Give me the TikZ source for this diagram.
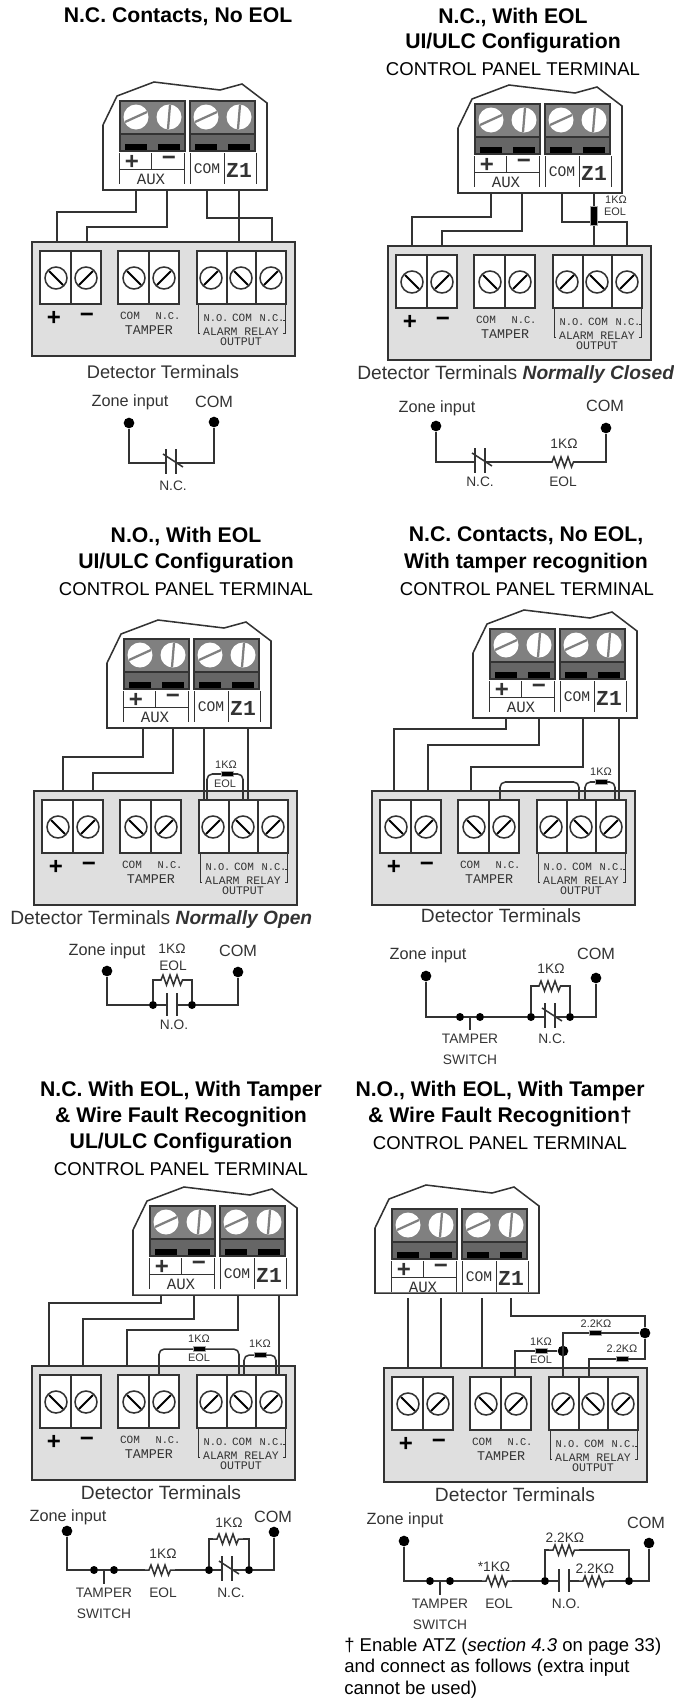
\documentclass[tikz,border=0pt]{standalone}
\usepackage{fontspec}
\setmainfont{Liberation Sans}
\setmonofont{Liberation Mono}
\usetikzlibrary{calc}

\definecolor{inkline}{HTML}{333333}
\definecolor{boxgrey}{HTML}{DFDFDF}
\definecolor{blockgrey}{HTML}{808080}
\definecolor{blockdark}{HTML}{666666}

\tikzset{
	wire/.style={draw=inkline,line width=1.15pt},
	headline/.style={inner sep=0,font=\fontsize{15.9}{19}\selectfont\bfseries,text=black},
	subhead/.style={inner sep=0,font=\fontsize{13.9}{17}\selectfont,text=black},
	termlabel/.style={inner sep=0,font=\fontsize{14.4}{17}\selectfont,text=inkline},
	zonelabel/.style={inner sep=0,font=\fontsize{12.2}{15}\selectfont,text=inkline},
	partlabel/.style={inner sep=0,font=\fontsize{10.3}{13}\selectfont,text=inkline},
	tinylabel/.style={inner sep=0,font=\fontsize{8.2}{10}\selectfont,text=inkline},
	stencil/.style={inner sep=0,font=\fontsize{#1}{#1}\selectfont\ttfamily,text=inkline},
	signmark/.style={inner sep=0,font=\fontsize{18}{18}\selectfont\bfseries,text=inkline},
	bigdot/.style={circle,fill=black,inner sep=0,minimum size=8pt},
	joindot/.style={circle,fill=black,inner sep=0,minimum size=6pt},
	smallres/.style={rectangle,fill=black,draw=black!35,line width=.3pt,inner sep=0,minimum width=9pt,minimum height=3.8pt},
	pics/termpanel/.default=0,
	pics/termpanel/.style={code={
		\draw[wire,fill=white] (0,-65) -- (14,-94) -- (51,-108) -- (117,-100) -- (139,-106) -- (164,-87) -- (164,0) -- (0,0) -- cycle;
		\begin{scope}[shift={(0,#1)}]
		\foreach \x in {17,87} {
			\draw[wire,fill=blockgrey] (\x,-89) rectangle ++(65,50);
			\draw[wire,fill=blockdark] (\x,-56) rectangle ++(65,17);
			\fill[black] (\x+5,-46) rectangle ++(22,6);
			\fill[black] (\x+38,-46) rectangle ++(22,6);
		}
		\foreach \x in {33,103} {
			\fill[white] (\x,-73) circle (12.5*.75pt);
			\draw[blockgrey,line width=1.7pt] (\x-11,-68) -- (\x+11,-78);
			\fill[white] (\x+33,-73) circle (12.5*.75pt);
			\draw[blockgrey,line width=1.7pt] (\x+32,-61) -- (\x+34,-85);
		}
		\foreach \x/\t in {16.5/-6,48/-21,81/-6,87/-6,121/-6,153/-6}
			\draw[inkline,line width=.7pt] (\x,-37) -- (\x,\t);
		\draw[inkline,line width=.7pt] (16.5,-21) -- (81,-21);
		\node[signmark] (-plus) at (29,-28) {+};
		\node[signmark] (-minus) at (66,-29) {−};
		\node[stencil=11.8] (-aux) at (48,-11) {AUX};
		\node[stencil=11] (-com) at (104,-21) {COM};
		\node[stencil=16,font=\fontsize{16}{16}\selectfont\ttfamily\bfseries] (-zone) at (136,-20) {Z1};
		\end{scope}
	}},
	pics/detbox/.style={code={
		\draw[wire,fill=boxgrey] (0,0) rectangle (263,114);
		\foreach \x/\w in {8/61,86/61,165/89}
			\draw[wire,fill=white] (\x,9) rectangle ++(\w,53);
		\foreach \x in {39,117,195,224}
			\draw[wire] (\x,9) -- (\x,62);
		\foreach \x/\s in {24/1,54/-1,102/1,132/-1,179/-1,209/1,239/-1} {
			\draw[wire,fill=white] (\x,36) circle (11*.75pt);
			\draw[black,line width=1.5pt] ({\x-7*\s},29) -- ({\x+7*\s},43);
		}
		\draw[inkline,line width=.5pt] (166,62) -- (166,91) -- (168,91);
		\draw[inkline,line width=.5pt] (253,62) -- (253,91) -- (251,91);
		\draw[inkline,line width=.5pt] (253,78) -- (251,78);
		\node[signmark,text=black] (-plus) at (22,76) {+};
		\node[signmark,text=black] (-minus) at (55,76) {−};
		\node[stencil=8.3] (-tcom) at (98,74) {COM};
		\node[stencil=7.8] (-tnc) at (136,74) {N.C.};
		\node[stencil=10] (-tamper) at (117,88) {TAMPER};
		\node[stencil=7.8] (-no) at (184,76) {N.O.};
		\node[stencil=8.3] (-rcom) at (210,76) {COM};
		\node[stencil=7.8] (-nc) at (240,76) {N.C.};
		\node[stencil=8.6] (-alarm) at (209,90) {ALARM RELAY};
		\node[stencil=8.7] (-output) at (209,100) {OUTPUT};
	}},
	pics/nccontact/.style={code={
		\coordinate (-w) at (-5,0);
		\coordinate (-e) at (5,0);
		\draw[wire] (-5,-14) -- (-5,11);
		\draw[wire] (5,-14) -- (5,11);
		\draw[wire] (-8,-9) -- (12,4);
	}},
	pics/nocontact/.style={code={
		\coordinate (-w) at (-5,0);
		\coordinate (-e) at (5,0);
		\draw[wire] (-5,-12) -- (-5,11);
		\draw[wire] (5,-12) -- (5,11);
	}},
	pics/zigres/.style={code={
		\coordinate (-w) at (-15,0);
		\coordinate (-e) at (15,0);
		\draw[wire] (-w) -- (-11,0) -- (-9,-5) -- (-5.5,5) -- (-2,-5) -- (1.5,5) -- (5,-5) -- (8.5,5) -- (10.5,0) -- (-e);
	}},
}

\begin{document}
\begin{tikzpicture}[x=.75pt,y=-.75pt]
	\useasboundingbox (0,0) rectangle (674,1699);

	% headings
	\node[headline] (headA) at (178,17) {N.C. Contacts, No EOL};
	\node[headline] (headB) at (513,17) {N.C., With EOL};
	\node[headline] (headBb) at (513,43) {UI/ULC Configuration};
	\node[subhead] (subB) at (513,69) {CONTROL PANEL TERMINAL};
	\node[headline] (headC) at (186,536) {N.O., With EOL};
	\node[headline] (headCb) at (186,563) {UI/ULC Configuration};
	\node[subhead] (subC) at (186,589) {CONTROL PANEL TERMINAL};
	\node[headline] (headD) at (526,536) {N.C. Contacts, No EOL,};
	\node[headline] (headDb) at (526,563) {With tamper recognition};
	\node[subhead] (subD) at (527,589) {CONTROL PANEL TERMINAL};
	\node[headline] (headE) at (181,1091) {N.C. With EOL, With Tamper};
	\node[headline] (headEb) at (181,1117) {\& Wire Fault Recognition};
	\node[headline] (headEc) at (181,1143) {UL/ULC Configuration};
	\node[subhead] (subE) at (181,1169) {CONTROL PANEL TERMINAL};
	\node[headline] (headF) at (500,1091) {N.O., With EOL, With Tamper};
	\node[headline] (headFb) at (500,1117) {\& Wire Fault Recognition†};
	\node[subhead] (subF) at (500,1143) {CONTROL PANEL TERMINAL};

	% panels and detector boxes
	\pic (boxA) at (32,242) {detbox};
	\pic (boxB) at (388,246) {detbox};
	\pic (boxC) at (34,791) {detbox};
	\pic (boxD) at (372,791) {detbox};
	\pic (boxE) at (32,1366) {detbox};
	\pic (boxF) at (384,1368) {detbox};
	\pic (panA) at (103,190) {termpanel};
	\pic (panB) at (458,193) {termpanel};
	\pic (panC) at (107,728) {termpanel};
	\pic (panD) at (473,718) {termpanel};
	\pic (panE) at (133,1295) {termpanel};
	\pic (panF) at (375,1293) {termpanel=5};

	\node[termlabel,font=\fontsize{13.7}{17}\selectfont] (detA) at (163,372) {Detector Terminals};
	\node[termlabel,anchor=west] (detB) at (357,375) {Detector Terminals \textbf{\textit{Normally Closed}}};
	\node[termlabel,anchor=west] (detC) at (10,920) {Detector Terminals \textbf{\textit{Normally Open}}};
	\node[termlabel] (detD) at (501,916) {Detector Terminals};
	\node[termlabel] (detE) at (161,1493) {Detector Terminals};
	\node[termlabel] (detF) at (515,1495) {Detector Terminals};

	% wire ends
	\foreach \n/\x/\y in {tapA1/136/190,tapA2/167/190,tapA3/207/190,tapA4/239/190,
		dropA1/57/242,dropA2/87/242,dropA3/272/242,dropA4/239/242,
		tapB1/491/193,tapB2/522/193,tapB3/562/193,tapB4/594/193,
		dropB1/412/246,dropB2/442/246,dropB3/627/246,dropB4/594/246,
		tapC1/143/728,tapC2/173/728,tapC3/204/728,tapC4/248/728,
		dropC1/63/791,dropC2/93/791,dropC3/204/800,dropC4/248/800,
		loopC1/207/800,loopC2/243/800,
		tapD1/506/718,tapD2/539/718,tapD3/583/718,tapD4/619/718,
		dropD1/394/791,dropD2/428/791,dropD3/471/791,dropD4/619/799,
		loopD1/500/799,loopD2/579/799,loopD3/585/799,loopD4/615/799,
		tapE1/161/1295,tapE2/194/1295,tapE3/238/1295,tapE4/279/1295,
		dropE1/49/1366,dropE2/83/1366,dropE3/127/1366,dropE4/279/1375,
		loopE1/159/1375,loopE2/239/1375,loopE3/244/1375,loopE4/276/1375,
		tapF1/408/1298,tapF2/441/1298,tapF3/482/1298,tapF4/511/1298,
		dropF1/408/1368,dropF2/441/1368,dropF3/482/1368,dropF4/589/1377,
		dropF5/563/1377,dropF6/515/1377}
		\coordinate (\n) at (\x,\y);

	% first row wiring
	\draw[wire] (tapA1) -- ++(0,22) -| (dropA1);
	\draw[wire] (tapA2) -- ++(0,37) -| (dropA2);
	\draw[wire] (tapA3) -- ++(0,28) -| (dropA3);
	\draw[wire] (tapA4) -- (dropA4);
	\draw[wire] (tapB1) -- ++(0,24) -| (dropB1);
	\draw[wire] (tapB2) -- ++(0,38) -| (dropB2);
	\draw[wire] (tapB3) -- ++(0,29) -| (dropB3);
	\draw[wire] (tapB4) -- (dropB4);
	\node[smallres,minimum width=14pt,minimum height=5pt,rotate=90] (resB) at (594,216) {};
	\node[tinylabel] (ohmB) at (616,200) {1KΩ};
	\node[tinylabel] (eolB) at (615,212) {EOL};

	% second row wiring
	\draw[wire] (tapC1) -- ++(0,29) -| (dropC1);
	\draw[wire] (tapC2) -- ++(0,45) -| (dropC2);
	\draw[wire] (tapC3) -- (dropC3);
	\draw[wire] (tapC4) -- (dropC4);
	\node[smallres] (resC) at (227,774) {};
	\draw[wire,rounded corners=4pt] (loopC1) |- (resC.west);
	\draw[wire,rounded corners=4pt] (resC.east) -| (loopC2);
	\node[tinylabel] (ohmC) at (226,765) {1KΩ};
	\node[tinylabel] (eolC) at (225,784) {EOL};

	\draw[wire] (tapD1) -- ++(0,11) -| (dropD1);
	\draw[wire] (tapD2) -- ++(0,27) -| (dropD2);
	\draw[wire] (tapD3) -- ++(0,49) -| (dropD3);
	\draw[wire] (tapD4) -- (dropD4);
	\draw[wire,rounded corners=4pt] (loopD1) -- ++(0,-17) -| (loopD2);
	\node[smallres] (resD) at (601,782) {};
	\draw[wire,rounded corners=4pt] (loopD3) |- (resD.west);
	\draw[wire,rounded corners=4pt] (resD.east) -| (loopD4);
	\node[tinylabel] (ohmD) at (601,772) {1KΩ};

	% third row wiring
	\draw[wire] (tapE1) -- ++(0,8) -| (dropE1);
	\draw[wire] (tapE2) -- ++(0,24) -| (dropE2);
	\draw[wire] (tapE3) -- ++(0,35) -| (dropE3);
	\draw[wire] (tapE4) -- (dropE4);
	\node[smallres] (resE) at (199,1349) {};
	\draw[wire,rounded corners=4pt] (loopE1) |- (resE.west);
	\draw[wire,rounded corners=4pt] (resE.east) -| (loopE2);
	\node[tinylabel] (ohmE) at (199,1339) {1KΩ};
	\node[tinylabel] (eolE) at (199,1358) {EOL};
	\node[smallres] (resEb) at (260,1355) {};
	\draw[wire,rounded corners=4pt] (loopE3) |- (resEb.west);
	\draw[wire,rounded corners=4pt] (resEb.east) -| (loopE4);
	\node[tinylabel] (ohmEb) at (260,1344) {1KΩ};

	\draw[wire] (tapF1) -- (dropF1);
	\draw[wire] (tapF2) -- (dropF2);
	\draw[wire] (tapF3) -- (dropF3);
	\node[bigdot] (wireFa) at (645,1333) {};
	\node[bigdot] (wireFb) at (563,1351) {};
	\node[smallres] (resFa) at (595,1333) {};
	\node[smallres] (resFb) at (622,1359) {};
	\node[smallres] (resFc) at (541,1351) {};
	\draw[wire] (tapF4) |- (645,1316) -- (wireFa);
	\draw[wire] (wireFa) |- (resFb.east);
	\draw[wire] (resFb.west) -| (dropF4);
	\draw[wire] (wireFa) -- (resFa.east);
	\draw[wire] (resFa.west) -| (dropF5);
	\draw[wire] (wireFb) -- (resFc.east);
	\draw[wire] (resFc.west) -| (dropF6);
	\node[tinylabel] (ohmFa) at (596,1324) {2.2KΩ};
	\node[tinylabel] (ohmFb) at (622,1349) {2.2KΩ};
	\node[tinylabel] (ohmFc) at (541,1342) {1KΩ};
	\node[tinylabel] (eolF) at (541,1360) {EOL};

	% schematic A
	\node[bigdot] (zoneA) at (129,423) {};
	\node[bigdot] (comA) at (214,422) {};
	\pic (contA) at (171,463) {nccontact};
	\draw[wire] (zoneA) |- (contA-w);
	\draw[wire] (contA-e) -| (comA);
	\node[zonelabel] (zoneAt) at (130,402) {Zone input};
	\node[zonelabel] (comAt) at (214,402) {COM};
	\node[partlabel] (contAt) at (173,486) {N.C.};

	% schematic B
	\node[bigdot] (zoneB) at (436,426) {};
	\node[bigdot] (comB) at (606,428) {};
	\pic (contB) at (480,462) {nccontact};
	\pic (rB) at (563,462) {zigres};
	\draw[wire] (zoneB) |- (contB-w);
	\draw[wire] (contB-e) -- (rB-w);
	\draw[wire] (rB-e) -| (comB);
	\node[zonelabel] (zoneBt) at (437,408) {Zone input};
	\node[zonelabel] (comBt) at (605,406) {COM};
	\node[partlabel] (contBt) at (480,482) {N.C.};
	\node[partlabel] (rBt) at (564,444) {1KΩ};
	\node[partlabel] (eolBt) at (563,482) {EOL};

	% schematic C
	\node[bigdot] (zoneC) at (107,971) {};
	\node[bigdot] (comC) at (238,972) {};
	\node[joindot] (joinC) at (153,1005) {};
	\node[joindot] (joinCb) at (192,1005) {};
	\pic (contC) at (172,1005) {nocontact};
	\pic (rC) at (172,980) {zigres};
	\draw[wire] (zoneC) |- (joinC);
	\draw[wire] (joinC) -- (contC-w);
	\draw[wire] (contC-e) -- (joinCb);
	\draw[wire] (joinCb) -| (comC);
	\draw[wire] (joinC) |- (rC-w);
	\draw[wire] (rC-e) -| (joinCb);
	\node[zonelabel] (zoneCt) at (107,951) {Zone input};
	\node[zonelabel] (comCt) at (238,951) {COM};
	\node[partlabel] (rCt) at (172,949) {1KΩ};
	\node[partlabel] (eolCt) at (173,966) {EOL};
	\node[partlabel] (contCt) at (174,1025) {N.O.};

	% schematic D
	\node[bigdot] (zoneD) at (426,976) {};
	\node[bigdot] (comD) at (596,978) {};
	\node[joindot] (tamD) at (460,1017) {};
	\node[joindot] (tamDb) at (480,1017) {};
	\node[joindot] (joinD) at (531,1017) {};
	\node[joindot] (joinDb) at (570,1017) {};
	\pic (contD) at (550,1017) {nccontact};
	\pic (rD) at (550,986) {zigres};
	\coordinate (pushD) at (470,1017);
	\draw[wire] (zoneD) |- (tamD);
	\draw[wire] (tamD) -- (tamDb);
	\draw[wire] (tamDb) -- (joinD);
	\draw[wire] (joinD) -- (contD-w);
	\draw[wire] (contD-e) -- (joinDb);
	\draw[wire] (joinDb) -| (comD);
	\draw[wire] (joinD) |- (rD-w);
	\draw[wire] (rD-e) -| (joinDb);
	\draw[wire] (pushD) -- ++(0,13);
	\node[zonelabel] (zoneDt) at (428,955) {Zone input};
	\node[zonelabel] (comDt) at (596,954) {COM};
	\node[partlabel] (rDt) at (551,969) {1KΩ};
	\node[partlabel] (tamDt) at (470,1039) {TAMPER};
	\node[partlabel] (swiDt) at (470,1060) {SWITCH};
	\node[partlabel] (contDt) at (552,1039) {N.C.};

	% schematic E
	\node[bigdot] (zoneE) at (67,1531) {};
	\node[bigdot] (comE) at (274,1532) {};
	\node[joindot] (tamE) at (94,1570) {};
	\node[joindot] (tamEb) at (114,1570) {};
	\node[joindot] (joinE) at (209,1570) {};
	\node[joindot] (joinEb) at (249,1570) {};
	\pic (contE) at (227,1570) {nccontact};
	\pic (rE) at (160,1570) {zigres};
	\pic (rEb) at (228,1539) {zigres};
	\coordinate (pushE) at (104,1570);
	\draw[wire] (zoneE) |- (tamE);
	\draw[wire] (tamE) -- (tamEb);
	\draw[wire] (tamEb) -- (rE-w);
	\draw[wire] (rE-e) -- (joinE);
	\draw[wire] (joinE) -- (contE-w);
	\draw[wire] (contE-e) -- (joinEb);
	\draw[wire] (joinEb) -| (comE);
	\draw[wire] (joinE) |- (rEb-w);
	\draw[wire] (rEb-e) -| (joinEb);
	\draw[wire] (pushE) -- ++(0,14);
	\node[zonelabel] (zoneEt) at (68,1517) {Zone input};
	\node[zonelabel] (comEt) at (273,1517) {COM};
	\node[partlabel] (rEt) at (163,1554) {1KΩ};
	\node[partlabel] (rEbt) at (229,1523) {1KΩ};
	\node[partlabel] (eolEt) at (163,1593) {EOL};
	\node[partlabel] (tamEt) at (104,1593) {TAMPER};
	\node[partlabel] (swiEt) at (104,1614) {SWITCH};
	\node[partlabel] (contEt) at (231,1593) {N.C.};

	% schematic F
	\node[bigdot] (zoneF) at (404,1541) {};
	\node[bigdot] (comF) at (649,1543) {};
	\node[joindot] (tamF) at (430,1581) {};
	\node[joindot] (tamFb) at (450,1581) {};
	\node[joindot] (joinF) at (545,1581) {};
	\node[joindot] (joinFb) at (629,1581) {};
	\pic (contF) at (564,1581) {nocontact};
	\pic (rF) at (497,1581) {zigres};
	\pic (rFb) at (594,1581) {zigres};
	\pic (rFc) at (564,1550) {zigres};
	\coordinate (pushF) at (440,1581);
	\draw[wire] (zoneF) |- (tamF);
	\draw[wire] (tamF) -- (tamFb);
	\draw[wire] (tamFb) -- (rF-w);
	\draw[wire] (rF-e) -- (joinF);
	\draw[wire] (joinF) -- (contF-w);
	\draw[wire] (contF-e) -- (rFb-w);
	\draw[wire] (rFb-e) -- (joinFb);
	\draw[wire] (joinFb) -| (comF);
	\draw[wire] (joinF) |- (rFc-w);
	\draw[wire] (rFc-e) -| (joinFb);
	\draw[wire] (pushF) -- ++(0,14);
	\node[zonelabel] (zoneFt) at (405,1520) {Zone input};
	\node[zonelabel] (comFt) at (646,1523) {COM};
	\node[partlabel] (rFct) at (565,1538) {2.2KΩ};
	\node[partlabel] (rFt) at (494,1567) {*1KΩ};
	\node[partlabel] (rFbt) at (595,1569) {2.2KΩ};
	\node[partlabel] (tamFt) at (440,1604) {TAMPER};
	\node[partlabel] (swiFt) at (440,1625) {SWITCH};
	\node[partlabel] (eolFt) at (499,1604) {EOL};
	\node[partlabel] (contFt) at (566,1604) {N.O.};

	% footnote
	\node[subhead,anchor=west] (noteA) at (344,1647) {† Enable ATZ (\textit{section 4.3} on page 33)};
	\node[subhead,anchor=west] (noteB) at (344,1668) {and connect as follows (extra input};
	\node[subhead,anchor=west] (noteC) at (344,1690) {cannot be used)};
\end{tikzpicture}
\end{document}
